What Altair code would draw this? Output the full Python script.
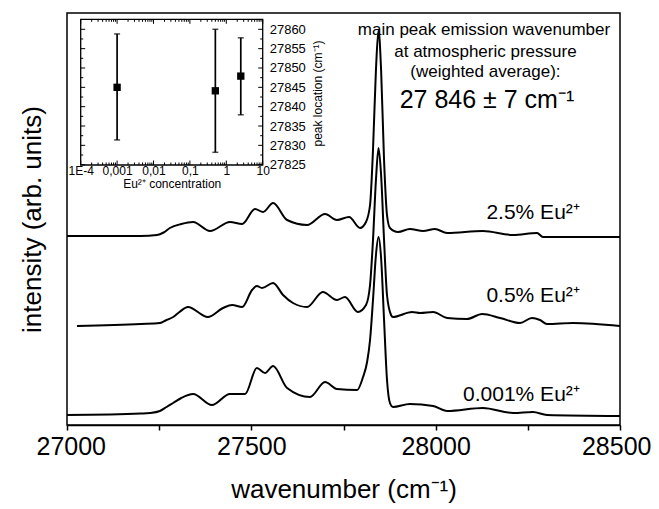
import altair as alt
import pandas as pd

FONT = "Liberation Sans"

# ---------------- main spectra (wavenumber, intensity in arb. units) ----------------
wn_25 = [27000, 27200, 27244, 27262, 27279, 27310, 27342, 27388, 27442, 27475, 27510, 27532, 27559,
         27597, 27651, 27700, 27732, 27765, 27795, 27811, 27822, 27830, 27838, 27845, 27852, 27860,
         27868, 27876, 27898, 27930, 27966, 27998, 28031, 28128, 28210, 28275, 28291, 28500]
int_25 = [189, 189, 190, 192.5, 197, 201, 203, 194, 203, 201, 216, 213, 222,
          205, 200, 211, 205, 208, 197, 203, 220, 275, 355, 395, 355, 265,
          210, 197, 193, 196, 194, 196, 192, 194, 190, 192, 188, 188]

wn_05 = [27027, 27200, 27252, 27270, 27288, 27305, 27328, 27382, 27423, 27448, 27475, 27502, 27515,
         27529, 27559, 27586, 27613, 27651, 27694, 27732, 27754, 27789, 27811, 27822, 27830, 27838,
         27845, 27852, 27860, 27868, 27879, 27884, 27936, 27958, 27993, 28031, 28085, 28126, 28175,
         28229, 28261, 28283, 28302, 28373, 28500]
int_05 = [99, 101, 102, 105, 108, 113, 118, 108, 117, 120, 118, 135, 139,
          137, 142, 130, 122, 118, 133, 125, 128, 113, 120, 140, 185, 245,
          277, 250, 185, 130, 110, 108, 113, 112, 113, 107, 106, 111, 107,
          102, 107, 105, 101, 102, 99]

wn_0001 = [27000, 27200, 27225, 27252, 27270, 27288, 27310, 27342, 27393, 27442, 27483, 27515, 27537,
           27559, 27597, 27659, 27700, 27732, 27787, 27803, 27814, 27822, 27830, 27838, 27845, 27852,
           27860, 27868, 27876, 27884, 27930, 27993, 28031, 28128, 28210, 28264, 28302, 28500]
int_0001 = [10, 11.5, 12, 14, 18, 22, 27, 31, 20, 31, 31, 57, 52,
            59, 37, 28, 43, 36, 35, 48, 63, 85, 125, 170, 188, 167,
            105, 45, 22, 18, 21, 19, 14, 17, 12, 13, 10, 9]

series_names = ["2.5%", "0.5%", "0.001%"]

label_texts = ["2.5% Eu²⁺", "0.5% Eu²⁺", "0.001% Eu²⁺"]
label_wn = [28391, 28391, 28391]
label_int = [212.5, 129.5, 30.5]

note_texts = ["main peak emission wavenumber", "at atmospheric pressure",
              "(weighted average):", "27 846 ± 7 cm⁻¹"]
note_wn = [28131, 28135, 28135, 28139]
note_int = [395, 373.3, 353.3, 325]
note_size = [17, 17, 17, 25]

x_ticks = [27000, 27250, 27500, 27750, 28000, 28250, 28500]

# ---------------- inset data ----------------
conc = [0.001, 0.5, 2.5]
peak = [27845, 27844.1, 27847.9]
err_lo = [27831.4, 27828.2, 27837.9]
err_hi = [27858.8, 27860.0, 27857.8]

inset_x_ticks = [1e-4, 1e-3, 1e-2, 1e-1, 1, 10]
inset_x_labels = ["1E-4", "0,001", "0,01", "0,1", "1", "10"]
inset_x_minor = [m * d for d in [1e-4, 1e-3, 1e-2, 1e-1, 1] for m in range(2, 10)]
inset_y_ticks = [27825, 27830, 27835, 27840, 27845, 27850, 27855, 27860]
inset_y_minor = [27827.5, 27832.5, 27837.5, 27842.5, 27847.5, 27852.5, 27857.5]

# ---------------- frames ----------------
spec = pd.concat([
    pd.DataFrame({"wn": wn_25, "intensity": int_25, "series": series_names[0]}),
    pd.DataFrame({"wn": wn_05, "intensity": int_05, "series": series_names[1]}),
    pd.DataFrame({"wn": wn_0001, "intensity": int_0001, "series": series_names[2]}),
])
labels_df = pd.DataFrame({"wn": label_wn, "intensity": label_int, "text": label_texts})
notes_df = pd.DataFrame({"wn": note_wn, "intensity": note_int, "text": note_texts, "fs": note_size})

ins_df = pd.DataFrame({"conc": conc, "loc": peak, "lo": err_lo, "hi": err_hi})
caps_df = pd.DataFrame({"conc": conc + conc, "loc": err_lo + err_hi})

W, H = 553, 412
IX0, IX1 = 13.7, 195.7
IY0, IY1 = 6.3, 152.0

# ---------------- main encodings ----------------
xs = alt.Scale(domain=[27000, 28500], nice=False, zero=False)
ys = alt.Scale(domain=[0, 412], nice=False, zero=False)
x_axis = alt.Axis(values=x_ticks,
                  labelExpr="datum.value % 500 == 0 ? format(datum.value, 'd') : ''",
                  title="wavenumber (cm⁻¹)", grid=False, labelFontSize=25, titleFontSize=26,
                  titleFontWeight="normal", tickSize=5, tickWidth=1.5, tickColor="black",
                  domainColor="black", domainWidth=1.5, labelColor="black", titleColor="black",
                  labelPadding=4, titlePadding=17, labelFlush=True, labelFlushOffset=31,
                  labelOverlap=False, labelFont=FONT, titleFont=FONT)
y_axis = alt.Axis(labels=False, ticks=False, domain=False, grid=False,
                  title="intensity (arb. units)", titleFontSize=26, titleFontWeight="normal",
                  titleColor="black", titlePadding=22, titleFont=FONT)
X = alt.X("wn:Q", scale=xs, axis=x_axis)
Y = alt.Y("intensity:Q", scale=ys, axis=y_axis)

lines = alt.Chart(spec).mark_line(color="black", strokeWidth=2, interpolate="monotone").encode(
    x=X, y=Y, detail="series:N")
labels = alt.Chart(labels_df).mark_text(align="right", baseline="middle", fontSize=21,
                                        font=FONT, color="black").encode(x=X, y=Y, text="text:N")
notes = alt.Chart(notes_df).mark_text(align="center", baseline="middle", font=FONT,
                                      color="black").encode(
    x=X, y=Y, text="text:N", size=alt.Size("fs:Q", scale=None, legend=None))
main = alt.layer(lines, labels, notes)

# ---------------- inset encodings ----------------
xi = alt.Scale(type="log", domain=[1e-4, 10], range=[IX0, IX1], nice=False)
yi = alt.Scale(domain=[27825, 27860], range=[151.7, 16.3], nice=False, zero=False)
label_map = " : ".join(
    f"datum.value < {v * 3.1623:.6g} ? '{l}'" for v, l in zip(inset_x_ticks[:-1], inset_x_labels[:-1])
) + f" : '{inset_x_labels[-1]}'"
xi_axis = alt.Axis(orient="bottom", offset=-(H - IY1), values=inset_x_ticks, labelExpr=label_map,
                   ticks=False, tickSize=0, domain=False, grid=False, labelFontSize=12,
                   labelPadding=0, labelFlush=False, labelOverlap=False, labelColor="black",
                   title="Eu²⁺ concentration", titleFontSize=12, titleFontWeight="normal",
                   titleColor="black", titlePadding=2, labelFont=FONT, titleFont=FONT)
yi_axis = alt.Axis(orient="right", offset=-(W - IX1), values=inset_y_ticks, format="d",
                   ticks=False, tickSize=0, domain=False, grid=False, labelFontSize=13,
                   labelPadding=6.5, labelFlush=False, labelOverlap=False, labelColor="black",
                   title="peak location (cm⁻¹)", titleFontSize=12, titleFontWeight="normal",
                   titleColor="black", titleAngle=270, titleAlign="center", titleBaseline="middle",
                   titleX=55, titleY=80, labelFont=FONT, titleFont=FONT)
XI = alt.X("conc:Q", scale=xi, axis=xi_axis)
YI = alt.Y("loc:Q", scale=yi, axis=yi_axis)

frame = alt.Chart(pd.DataFrame({"k": [0]})).mark_rect(
    fillOpacity=0, stroke="black", strokeWidth=1.3).encode(
    x=alt.value(IX0), x2=alt.value(IX1), y=alt.value(IY0), y2=alt.value(IY1))

xmaj = pd.DataFrame({"conc": inset_x_ticks})
xmin = pd.DataFrame({"conc": inset_x_minor})
ymaj = pd.DataFrame({"loc": inset_y_ticks})
ymin = pd.DataFrame({"loc": inset_y_minor})

tick_layers = [
    alt.Chart(xmaj).mark_rule(color="black", strokeWidth=1).encode(x=XI, y=alt.value(IY1), y2=alt.value(IY1 - 4.5)),
    alt.Chart(xmin).mark_rule(color="black", strokeWidth=1).encode(x=XI, y=alt.value(IY1), y2=alt.value(IY1 - 2.5)),
    alt.Chart(xmaj).mark_rule(color="black", strokeWidth=1).encode(x=XI, y=alt.value(IY0), y2=alt.value(IY0 + 4.5)),
    alt.Chart(xmin).mark_rule(color="black", strokeWidth=1).encode(x=XI, y=alt.value(IY0), y2=alt.value(IY0 + 2.5)),
    alt.Chart(ymaj).mark_rule(color="black", strokeWidth=1).encode(y=YI, x=alt.value(IX1), x2=alt.value(IX1 - 4.5)),
    alt.Chart(ymin).mark_rule(color="black", strokeWidth=1).encode(y=YI, x=alt.value(IX1), x2=alt.value(IX1 - 2.5)),
    alt.Chart(ymaj).mark_rule(color="black", strokeWidth=1).encode(y=YI, x=alt.value(IX0), x2=alt.value(IX0 + 4.5)),
    alt.Chart(ymin).mark_rule(color="black", strokeWidth=1).encode(y=YI, x=alt.value(IX0), x2=alt.value(IX0 + 2.5)),
]

err = alt.Chart(ins_df).mark_rule(color="black", strokeWidth=1.7).encode(
    x=XI, y=alt.Y("lo:Q", scale=yi, axis=yi_axis), y2="hi:Q")
caps = alt.Chart(caps_df).mark_tick(color="black", orient="horizontal", size=6, thickness=1.5).encode(
    x=XI, y=YI)
pts = alt.Chart(ins_df).mark_square(color="black", size=54, opacity=1).encode(x=XI, y=YI)

inset = alt.layer(frame, *tick_layers, err, caps, pts)

chart = alt.layer(main, inset).resolve_scale(x="independent", y="independent").properties(
    width=W, height=H,
    padding={"left": 59, "top": 5, "right": 31, "bottom": 84},
    autosize=alt.AutoSizeParams(type="none"),
    background="white",
).configure_view(stroke="black", strokeWidth=1.5)

chart.save("out.html", embed_options={"renderer": "svg", "actions": False})
